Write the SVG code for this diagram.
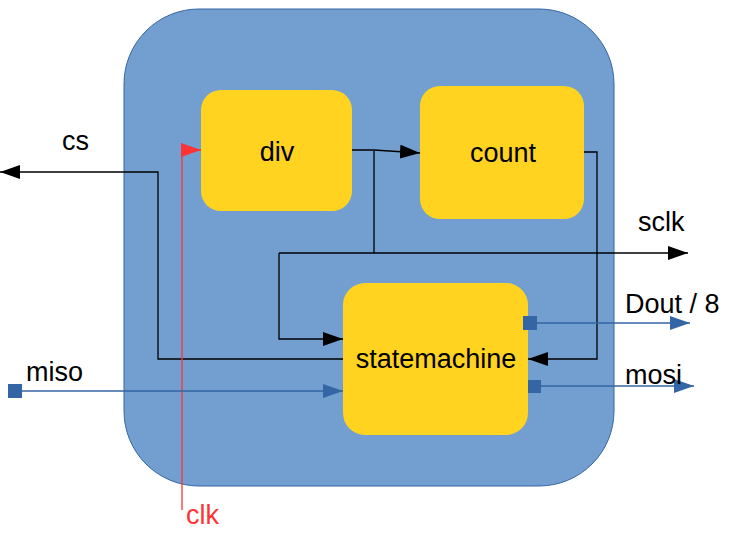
<svg xmlns="http://www.w3.org/2000/svg" width="736" height="546" viewBox="0 0 736 546">
<style>
text{font-family:"Liberation Sans",Arial,sans-serif;font-size:27px;fill:#000}
.blk{fill:#ffd320;stroke:none}
.k{fill:none;stroke:#000;stroke-width:1.3}
.b{fill:none;stroke:#3465a4;stroke-width:1.3}
.r{fill:none;stroke:#ff3333;stroke-width:1.3}
.sq{fill:#3465a4}
</style>
<defs>
<marker id="ak" markerWidth="20" markerHeight="14" refX="20" refY="7" orient="auto" markerUnits="userSpaceOnUse"><path d="M0,0L20,7L0,14Z" fill="#000"/></marker>
<marker id="ab" markerWidth="20" markerHeight="14" refX="20" refY="7" orient="auto" markerUnits="userSpaceOnUse"><path d="M0,0L20,7L0,14Z" fill="#3465a4"/></marker>
<marker id="ar" markerWidth="20" markerHeight="14" refX="20" refY="7" orient="auto" markerUnits="userSpaceOnUse"><path d="M0,0L20,7L0,14Z" fill="#ff3333"/></marker>
</defs>
<g id="spi">
<rect x="124" y="9" width="490" height="477" rx="75" ry="75" fill="#729fcf" stroke="#3465a4" stroke-width="1"/>
</g>
<g id="div"><rect class="blk" x="201" y="90" width="151" height="121" rx="20"/><text x="277" y="161" text-anchor="middle">div</text></g>
<g id="count"><rect class="blk" x="420" y="86" width="164" height="133" rx="20"/><text x="503" y="162" text-anchor="middle">count</text></g>
<g id="statemachine"><rect class="blk" x="343" y="283" width="185" height="152" rx="22"/><text x="436" y="368" text-anchor="middle">statemachine</text></g>
<g id="connectors">
<path class="k" d="M352,150H374L420,153" marker-end="url(#ak)"/>
<path class="k" d="M374,151V253"/>
<path class="k" d="M279,253H688" marker-end="url(#ak)"/>
<path class="k" d="M279,253V339H343" marker-end="url(#ak)"/>
<path class="k" d="M584,152H597V359H528" marker-end="url(#ak)"/>
<path class="k" d="M343,359H158V172H0" marker-end="url(#ak)"/>
<path class="r" d="M182,510V150H201" marker-end="url(#ar)"/>
<rect class="sq" x="8" y="384" width="14" height="14"/>
<path class="b" d="M15,391H343" marker-end="url(#ab)"/>
<rect class="sq" x="523" y="316" width="14" height="14"/>
<path class="b" d="M530,323H690" marker-end="url(#ab)"/>
<rect class="sq" x="528" y="380" width="13" height="13"/>
<path class="b" d="M534,386H694" marker-end="url(#ab)"/>
</g>
<g id="labels">
<text x="62" y="150">cs</text>
<text x="638" y="231">sclk</text>
<text x="625" y="313">Dout / 8</text>
<text x="625" y="384">mosi</text>
<text x="26" y="381">miso</text>
<text x="186" y="524" style="fill:#ff3333">clk</text>
</g>
</svg>
